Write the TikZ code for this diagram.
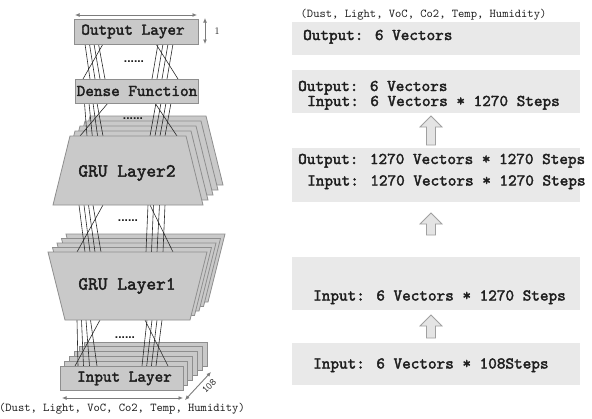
\documentclass[tikz,border=0pt]{standalone}
\usepackage{fontspec}
\newfontfamily\dotfont{Liberation Sans}
\newfontfamily\courfont{lmmono10-regular.otf}[AutoFakeBold=2.2]
\usetikzlibrary{arrows.meta}
\definecolor{layerfill}{HTML}{C9C9C9}
\definecolor{layeredge}{HTML}{8E8E8E}
\definecolor{panelfill}{HTML}{E9E9E9}
\definecolor{inktext}{HTML}{1E1E1E}
\definecolor{dimline}{HTML}{7C7C7C}
\definecolor{wirecol}{HTML}{2A2A2A}
\definecolor{arrowfill}{HTML}{E4E4E4}
\definecolor{arrowedge}{HTML}{A0A0A0}
\begin{document}
\begin{tikzpicture}[x=1pt,y=-1pt,
  layer/.style={fill=layerfill, draw=layeredge, line width=0.8pt},
  lbl/.style={font=\courfont\bfseries\fontsize{16.4}{18}\selectfont, text=inktext, inner sep=0pt},
  biglbl/.style={font=\courfont\bfseries\fontsize{18.5}{20}\selectfont, text=inktext, inner sep=0pt},
  caption/.style={font=\courfont\fontsize{12}{14}\selectfont, text=inktext, inner sep=0pt},
  panel/.style={fill=panelfill, draw=none, inner sep=0pt, anchor=north west},
  ptext/.style={font=\courfont\bfseries\fontsize{16.4}{18}\selectfont, text=inktext, inner sep=0pt, anchor=base west},
  wire/.style={draw=wirecol, line width=0.6pt},
  dots/.style={font=\dotfont\bfseries\fontsize{12}{12}\selectfont, text=inktext, inner sep=0pt, anchor=base},
  dimarrow/.style={draw=dimline, line width=0.9pt, {Latex[length=4.5pt,width=4pt]}-{Latex[length=4.5pt,width=4pt]}},
  blockarrow/.style={fill=arrowfill, draw=arrowedge, line width=0.8pt, line join=miter},
  pics/uparr/.style={code={\draw[blockarrow] (0,0) -- (11,11) -- (4.5,11) -- (4.5,#1) -- (-4.5,#1) -- (-4.5,11) -- (-11,11) -- cycle;}}
]
\useasboundingbox[fill=white] (0,0) rectangle (592,418);

% ---------- stacked copies behind the recurrent and input layers ----------
\foreach \k in {4,3,2,1}
  \draw[layer, shift={({5*\k},{-5*\k})}] (70,136) -- (186,136) -- (203,205) -- (53,205) -- cycle;
\foreach \k in {4,3,2,1}
  \draw[layer, shift={({4.5*\k},{-4.5*\k})}] (48,252) -- (207,252) -- (190,320) -- (65,320) -- cycle;
\foreach \k in {5,4,3,2,1}
  \draw[layer, shift={({4.8*\k},{-4.8*\k})}] (60,366) rectangle (183,390);

% ---------- wiring between layers ----------
\foreach \a/\b in {85/90, 89.5/95, 94/100, 98.5/105, 103/83, 158/152, 163/157, 168/162, 173/167, 156/178}
  \draw[wire] (\a,44) -- (\b,79);
\foreach \a/\b in {84.5/87, 89/92.3, 93/97.6, 97/103, 108/80, 156/150, 161/155, 166/160, 171/165, 155/177}
  \draw[wire] (\a,103) -- (\b,136);
\foreach \a/\b in {79/85, 84/90, 88.5/95, 93/101, 103/77, 148/146, 153.5/151.5, 159.5/157, 165/163, 150/173}
  \draw[wire] (\a,205) -- (\b,252);
\foreach \a/\b in {77/78, 81.5/83.5, 86/89.5, 90.5/97, 100/75, 147/142, 152/146.7, 157/151.4, 162/156, 145/168}
  \draw[wire] (\a,320) -- (\b,366);

% ---------- front layers ----------
\node[layer, minimum width=124, minimum height=25, inner sep=0pt] (outl) at (136,31.5) {};
\node[lbl] (outlt) at (133,31.5) {Output Layer};
\node[layer, minimum width=123, minimum height=24, inner sep=0pt] (dense) at (136.5,91) {};
\node[lbl] (denset) at (137,91) {Dense Function};
\draw[layer] (70,136) -- (186,136) -- (203,205) -- (53,205) -- cycle;
\node[biglbl] (gru2) at (127,173) {GRU Layer2};
\draw[layer] (48,252) -- (207,252) -- (190,320) -- (65,320) -- cycle;
\node[biglbl] (gru1) at (127,286) {GRU Layer1};
\node[layer, minimum width=123, minimum height=24, inner sep=0pt] (inl) at (121.5,378) {};
\node[lbl] (inlt) at (124.5,378.5) {Input Layer};

% ---------- elided units ----------
\node[dots] (d1) at (134,62) {......};
\node[dots] (d2) at (133,119) {......};
\node[dots] (d3) at (128,221) {......};
\node[dots] (d4) at (125,338) {......};

% ---------- dimension markers ----------
\coordinate (wt1) at (75,15);   \coordinate (wt2) at (197,15);
\draw[dimarrow] (wt1) -- (wt2);
\coordinate (ht1) at (205,18);  \coordinate (ht2) at (205,44);
\draw[dimarrow] (ht1) -- (ht2);
\node[font=\fontsize{10}{12}\selectfont, text=inktext, inner sep=0pt] (onelbl) at (217,31) {1};
\coordinate (wb1) at (62,398);  \coordinate (wb2) at (183,398);
\draw[dimarrow] (wb1) -- (wb2);
\coordinate (db1) at (185,400); \coordinate (db2) at (211,372);
\draw[dimarrow] (db1) -- (db2);
\node[font=\courfont\fontsize{10}{11}\selectfont, text=inktext, inner sep=0pt, rotate=45] (deplbl) at (209,386) {108};
\node[caption] (incap) at (122,409) {(Dust, Light, VoC, Co2, Temp, Humidity)};

% ---------- shape summary panels ----------
\node[caption] (outcap) at (423.5,15) {(Dust, Light, VoC, Co2, Temp, Humidity)};
\node[panel, minimum width=288, minimum height=33] (p1) at (292,22) {};
\node[ptext] (p1a) at (303,40) {Output: 6 Vectors};
\node[panel, minimum width=288, minimum height=43] (p2) at (292,70) {};
\node[ptext] (p2a) at (298,91) {Output: 6 Vectors};
\node[ptext] (p2b) at (307,106) {Input: 6 Vectors * 1270 Steps};
\node[panel, minimum width=288, minimum height=54] (p3) at (292,148) {};
\node[ptext] (p3a) at (298,164) {Output: 1270 Vectors * 1270 Steps};
\node[ptext] (p3b) at (307,185.5) {Input: 1270 Vectors * 1270 Steps};
\node[panel, minimum width=288, minimum height=53] (p4) at (292,257) {};
\node[ptext] (p4a) at (313,300.5) {Input: 6 Vectors * 1270 Steps};
\node[panel, minimum width=288, minimum height=42] (p5) at (292,343) {};
\node[ptext] (p5a) at (313,368.5) {Input: 6 Vectors * 108Steps};

% ---------- flow arrows between panels ----------
\pic (a1) at (431,116) {uparr=29};
\pic (a2) at (431,213) {uparr=22};
\pic (a3) at (431,315) {uparr=23};
\end{tikzpicture}
\end{document}
